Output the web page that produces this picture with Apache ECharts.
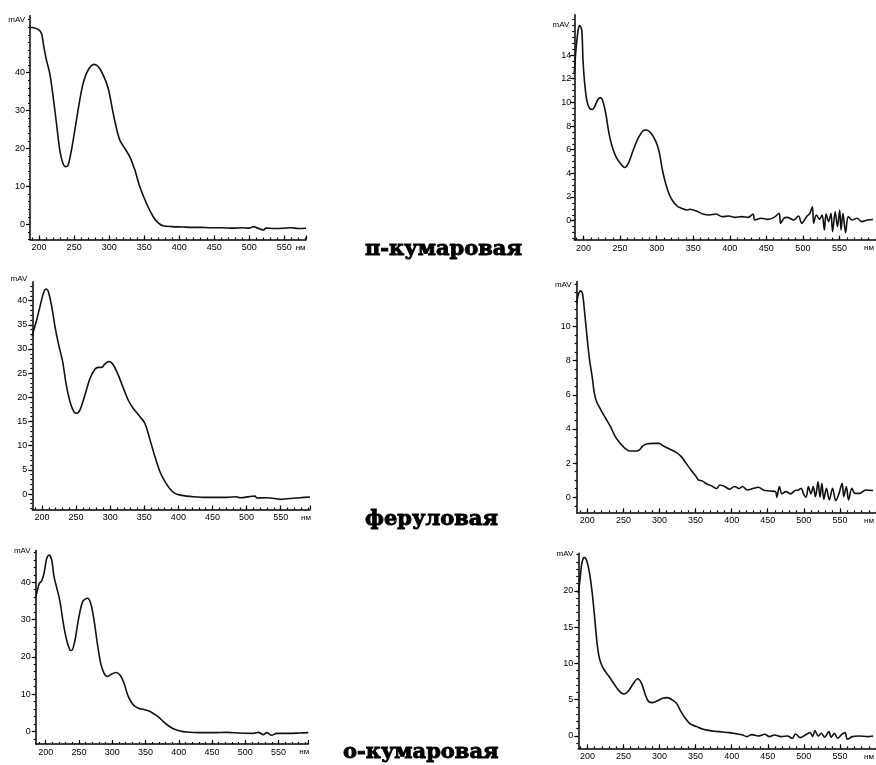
<!DOCTYPE html>
<html><head><meta charset="utf-8">
<script src="https://cdn.jsdelivr.net/npm/echarts@6/dist/echarts.min.js"></script>
<style>html,body{margin:0;padding:0;background:#fff}#c{width:876px;height:765px}</style>
</head><body><div id="c"></div>
<script>
// ---- data (wavelength, nm / signal, mAV) ----
const p1Wl  = [187,191,198.6,203.3,206.7,210.5,215.2,220,224.8,229.5,234.3,238.1,241.4,246.2,253.3,258.1,262.9,270,278.6,284.3,291.4,298.6,305.7,310.5,315.2,322.4,329.5,336.7,343.8,353.3,362.9,370,377.1,390,405,420,430,445,460,477,490,500,506,512,520,524,535,548,560,570,581];
const p1Val = [52.0,51.9,51.4,50.4,46.9,43.3,39.8,33.7,26.6,19.6,15.9,15.2,15.6,19.6,27.5,32.8,37.2,40.7,42.2,41.6,39.4,35.9,29.3,25.3,22.2,20.0,17.8,14.3,9.9,5.5,2.0,0.4,-0.4,-0.6,-0.7,-0.8,-0.8,-0.9,-0.9,-1.0,-0.9,-1.0,-0.6,-1.0,-1.5,-1.0,-1.1,-1.05,-0.9,-1.1,-1.05];

const p2Wl  = [187.4,189.6,192.7,194.9,197.6,199.3,201.6,204.7,208.2,211.8,214.9,219.3,222.8,225.9,230.3,234.8,239.2,244.5,250.3,256,261.3,268,274.6,281.3,285.7,292.4,299,303.4,307.9,312.3,316.7,321.2,327.8,334.5,341.1,345.5,354.4,363.2,372.1,381,389.8,398.7,407.5,416.4,425.3,431.9,434.2,443,451.9,460.8,467.4,469.6,474,478.5,487.3,494,498.4,505,509.5,513,514.8,518.3,522.8,526.3,529.4,531.7,535.2,538.4,540.6,544.2,547.3,550.4,552.2,554.8,558.4,562,567.3,574,580.6,588.4,596];
const p2Val = [12.45,14.4,16.1,16.5,16.1,13.6,11.6,10.1,9.5,9.4,9.6,10.2,10.4,10.2,9.1,7.4,6.25,5.4,4.85,4.5,4.85,5.97,6.96,7.6,7.66,7.38,6.68,5.83,4.28,3.15,2.3,1.75,1.24,1.04,0.9,0.96,0.82,0.56,0.48,0.56,0.34,0.39,0.28,0.34,0.28,0.56,0.06,0.2,0.11,0.28,0.62,-0.23,0.2,0.28,0.06,0.39,-0.23,0.34,0.62,1.18,-0.23,0.48,0.11,0.48,-0.79,0.56,-0.08,0.62,-0.93,0.76,-0.51,0.9,-0.79,0.62,-1.01,0.34,0.06,0.2,-0.08,0.06,0.1];

const p3Wl  = [185.8,187.3,192.2,197.1,202,205.9,209.3,214.2,219.1,223.9,230.3,235.2,241.1,246.9,250.8,255.7,263,270.4,277.7,282.6,287.5,292.4,298.2,304.6,311.9,319.3,326.6,333.9,343.7,351,358.4,365.7,373,380.4,387.7,395,404.8,421.9,441.4,470.8,485.4,490,512.3,515,529.4,544,549,558.8,578.3,593];
const p3Val = [32.6,33.6,36,38.8,41.5,42.4,41.9,38.8,34.6,31.2,27.4,22.9,19.1,17.0,16.7,17.4,20.5,23.9,25.8,26.2,26.2,26.9,27.4,26.7,24.6,21.9,19.4,17.7,16,14.6,11.2,7.7,4.6,2.55,1.03,0.14,-0.28,-0.55,-0.69,-0.69,-0.55,-0.76,-0.41,-0.83,-0.76,-0.97,-1.1,-0.97,-0.76,-0.62];

const p4Wl  = [185.3,187.5,190.6,193.3,196.4,199.6,203.1,206.7,209.8,212.9,218.7,225.4,232.1,238.8,245.5,252.2,258.8,267.8,272.2,276.7,283.4,292.3,299,305.7,314.6,323.5,330.2,336.9,343.6,350.2,353.8,359.2,365.8,372.5,379.2,383.7,390.4,397,403.7,410.4,414.9,421.6,430.5,437.2,443.9,452.8,460.8,462.6,466.2,469.8,475.1,481.8,487.6,492.9,496.5,499.6,503.2,506.3,509.9,513,516.1,519.7,522.4,525,527.7,531.3,535.3,539.8,544.3,548.6,553.1,555.3,558.9,562,566.5,570.9,577.6,585.6,596];
const p4Val = [11.37,11.86,12.1,11.95,10.78,9.41,8.05,7.07,6.09,5.6,5.12,4.63,4.14,3.55,3.16,2.87,2.71,2.71,2.77,3.0,3.13,3.16,3.16,3.0,2.81,2.62,2.38,1.99,1.6,1.25,1.02,0.96,0.78,0.66,0.51,0.72,0.63,0.47,0.63,0.51,0.63,0.43,0.53,0.59,0.43,0.37,0.33,0.0,0.63,0.2,0.33,0.2,0.39,0.43,0.53,0.2,0.0,0.63,0.2,0.63,0.04,0.9,0.0,0.82,-0.12,0.53,-0.16,0.53,-0.2,0.2,0.82,0.04,0.63,-0.16,0.53,0.23,0.23,0.43,0.4];

const p5Wl  = [185,187.5,190.5,194,197.5,201.5,205,209,212.5,217.5,221.5,226.5,231.5,236.6,239,244.1,249.1,255.6,262.6,267.6,272.6,277.6,282.6,287.6,292.6,299.1,305.7,311.7,317.7,324.2,331.7,339.2,346.7,354.2,361.7,369.3,376.8,384.3,391.8,401.8,411.8,431.8,451.9,471.9,491.9,512,519.5,527,532,539.5,547,562,582,594.6];
const p5Val = [35.7,37.9,39.7,40.4,42.4,46.4,47.3,46,41.5,37.9,34.8,29,24.5,21.8,21.7,24.5,29.9,34.8,35.7,34.4,29.9,23.6,18.3,15.6,14.7,15.4,15.8,15.1,12.9,9.3,7.1,6.2,5.9,5.5,4.8,3.9,2.6,1.5,0.7,0.1,-0.18,-0.36,-0.36,-0.27,-0.45,-0.54,-0.27,-0.89,-0.36,-1.07,-0.54,-0.54,-0.45,-0.36];

const p6Wl  = [187.4,189.7,191.9,194.2,196.4,199.6,203.1,206.7,209.9,213,215.7,218.9,223.4,230.1,236.8,243.6,250.3,257.1,263.8,269.6,275,280.4,284.9,290.7,297.5,304.2,311,317.7,323.5,328.9,335.7,342.4,351.4,360.4,369.4,378.3,387.3,396.3,405.3,414.3,421,427.8,436.7,445.7,452.5,459.2,468.2,477.2,483.9,488.4,495.1,501.9,508.6,512.2,515.4,519.9,524.3,528.8,534.7,537.8,542.3,546.8,552.6,557.1,560.3,567,576,588.6,596];
const p6Val = [19.7,21.5,23.6,24.5,24.6,24.0,22.4,19.7,16.5,13.2,11.2,10.0,9.1,8.2,7.2,6.25,5.8,6.25,7.26,7.9,7.26,5.66,4.74,4.6,4.87,5.2,5.29,4.97,4.5,3.5,2.44,1.66,1.29,0.92,0.74,0.64,0.55,0.46,0.32,0.18,-0.09,0.18,0.0,0.23,-0.09,0.14,-0.09,0.0,-0.32,0.28,-0.23,0.14,0.46,-0.09,0.74,0.0,0.37,-0.18,0.6,-0.18,0.37,-0.32,0.23,0.46,-0.46,-0.09,0.0,-0.09,0.0];

// tick labels
const xTickLabels = [200,250,300,350,400,450,500,550];
const yTicks1 = [0,10,20,30,40];
const yTicks2 = [0,2,4,6,8,10,12,14];
const yTicks3 = [0,5,10,15,20,25,30,35,40];
const yTicks4 = [0,2,4,6,8,10];
const yTicks5 = [0,10,20,30,40];
const yTicks6 = [0,5,10,15,20];

const compoundNames = ['п-кумаровая','феруловая','о-кумаровая'];

// ---- layout ----
const panels = [
  {wl:p1Wl, v:p1Val, yt:yTicks1, yMinor:2,   x0:30.0,  x1:306.0, xmin:187,   xmax:581,  y0:15.8,  y1:239.5, ymin:-4,   ymax:55,   nameGap:-11, yNameGap:-4, yMargin:5, endTick:true},
  {wl:p2Wl, v:p2Val, yt:yTicks2, yMinor:0.5, x0:574.3, x1:884.7, xmin:187.4, xmax:600,  y0:14.8,  y1:239.6, ymin:-1.6, ymax:17.4, nameGap:-7,  yNameGap:-10, yMargin:3, endTick:false},
  {wl:p3Wl, v:p3Val, yt:yTicks3, yMinor:1,   x0:32.3,  x1:310.0, xmin:185.8, xmax:593,  y0:281.8, y1:509.5, ymin:-3.2, ymax:43.9, nameGap:-4,  yNameGap:3,  yMargin:5, endTick:true},
  {wl:p4Wl, v:p4Val, yt:yTicks4, yMinor:0.5, x0:576.7, x1:886.8, xmin:185.3, xmax:600,  y0:281.5, y1:512.3, ymin:-0.88,ymax:12.64,nameGap:-7,  yNameGap:-3.5, yMargin:6, endTick:false},
  {wl:p5Wl, v:p5Val, yt:yTicks5, yMinor:2,   x0:35.7,  x1:308.3, xmin:185,   xmax:594.6,nameGap:-4, y0:550.6, y1:744.0, ymin:-3.4, ymax:48.5, yNameGap:0,  yMargin:5, endTick:true},
  {wl:p6Wl, v:p6Val, yt:yTicks6, yMinor:1,   x0:578.3, x1:884.5, xmin:187.4, xmax:600,  y0:553.3, y1:748.3, ymin:-1.7, ymax:25.2, nameGap:-7,  yNameGap:0,  yMargin:5, endTick:false}
];

const labelFont = {fontFamily:'Liberation Sans, Arial, sans-serif', fontSize:9, color:'#000'};
function range(a,b,step){const r=[];for(let v=Math.ceil(a/step)*step;v<=b+1e-9;v+=step)r.push(+v.toFixed(4));return r;}

const grid=[], xAxis=[], yAxis=[], series=[];
panels.forEach((p,k)=>{
  grid.push({left:p.x0, top:p.y0, width:p.x1-p.x0, height:p.y1-p.y0, containLabel:false});
  const xMajor = p.endTick ? xTickLabels.concat([p.xmax]) : xTickLabels;
  xAxis.push({type:'value', gridIndex:k, min:p.xmin, max:p.xmax, position:'bottom',
    axisLine:{show:true,onZero:false,lineStyle:{color:'#000',width:1.5}},
    axisTick:{show:true,inside:true,length:4,customValues:xMajor,lineStyle:{color:'#000',width:1.2}},
    axisLabel:Object.assign({show:true,customValues:xTickLabels,margin:4},labelFont),
    splitLine:{show:false},
    name:'нм', nameLocation:'end', nameGap:p.nameGap,
    nameTextStyle:Object.assign({align:'center',verticalAlign:'top',padding:[4,0,0,0]},labelFont,{fontSize:8})
  });
  xAxis.push({type:'value', gridIndex:k, min:p.xmin, max:p.xmax, position:'bottom',
    axisLine:{show:false,onZero:false},
    axisTick:{show:true,inside:true,length:2,customValues:range(p.xmin,p.xmax,10),lineStyle:{color:'#000',width:1.2}},
    axisLabel:{show:false}, splitLine:{show:false}});
  yAxis.push({type:'value', gridIndex:k, min:p.ymin, max:p.ymax, position:'left',
    axisLine:{show:true,onZero:false,lineStyle:{color:'#000',width:1.5}},
    axisTick:{show:true,inside:false,length:4,customValues:p.yt,lineStyle:{color:'#000',width:1.2}},
    axisLabel:Object.assign({show:true,customValues:p.yt,margin:p.yMargin},labelFont),
    splitLine:{show:false},
    name:'mAV', nameLocation:'end', nameGap:p.yNameGap,
    nameTextStyle:Object.assign({align:'right',verticalAlign:'middle',padding:[0,5,0,0]},labelFont,{fontSize:8})
  });
  yAxis.push({type:'value', gridIndex:k, min:p.ymin, max:p.ymax, position:'left',
    axisLine:{show:false,onZero:false},
    axisTick:{show:true,inside:false,length:2,customValues:range(p.ymin,p.ymax,p.yMinor),lineStyle:{color:'#000',width:1.2}},
    axisLabel:{show:false}, splitLine:{show:false}});
  series.push({type:'line', xAxisIndex:2*k, yAxisIndex:2*k, showSymbol:false, smooth:0.3,
    clip:true, lineStyle:{color:'#111',width:1.6},
    data:p.wl.map((w,i)=>[w,p.v[i]])});
});

const titleStyle = {fontFamily:'"DejaVu Serif", serif', fontWeight:'bold', fontSize:21, color:'#000',
  textBorderColor:'#000', textBorderWidth:0.9};
const title = [
  {text:compoundNames[0], left:365, top:239, padding:0, textStyle:titleStyle},
  {text:compoundNames[1], left:365, top:509, padding:0, textStyle:titleStyle},
  {text:compoundNames[2], left:343, top:742, padding:0, textStyle:titleStyle}
];

const chart = echarts.init(document.getElementById('c'), null, {renderer:'canvas'});
chart.setOption({animation:false, backgroundColor:'#fff', title, grid, xAxis, yAxis, series});
</script></body></html>
